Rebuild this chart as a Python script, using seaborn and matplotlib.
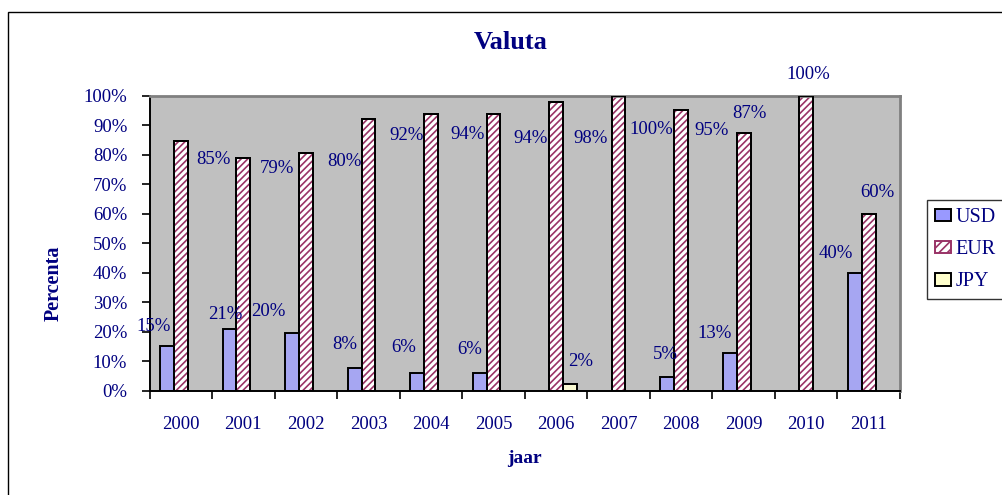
import numpy as np
import pandas as pd
import matplotlib
matplotlib.use("Agg")
import matplotlib.pyplot as plt
from matplotlib.patches import Rectangle, Patch
import seaborn as sns

# ---------------- data ----------------
years = ["2000", "2001", "2002", "2003", "2004", "2005",
         "2006", "2007", "2008", "2009", "2010", "2011"]
currencies = ["USD", "EUR", "JPY"]
usd = [15.0, 21.0, 19.6, 7.8, 6.0, 6.0, 0.0, 0.0, 4.8, 12.8, 0.0, 40.0]
eur = [84.6, 78.7, 80.4, 92.2, 93.6, 93.6, 97.8, 100.0, 95.2, 87.2, 100.0, 60.0]
jpy = [0.0, 0.0, 0.0, 0.0, 0.0, 0.0, 2.2, 0.0, 0.0, 0.0, 0.0, 0.0]
ytick_values = [0, 10, 20, 30, 40, 50, 60, 70, 80, 90, 100]
title = "Valuta"
xlabel = "jaar"
ylabel = "Percenta"

# ---------------- label layout (offsets, not data) ----------------
usd_lbl_dx = [-0.43, -0.29, -0.60, -0.38, -0.43, -0.38, None, None, -0.25, -0.47, None, -0.52]
usd_lbl_y = [21.7, 25.7, 26.8, 15.5, 14.5, 13.8, None, None, 12.4, 19.5, None, 46.6]
eur_lbl_dx = [0.53, 0.53, 0.61, 0.61, 0.58, 0.60, 0.55, 0.53, 0.49, 0.09, 0.03, 0.14]
eur_lbl_y = [78.2, 75.2, 77.5, 86.3, 86.9, 85.6, 85.6, 88.6, 88.0, 93.8, 107.0, 67.1]
jpy_lbl_dx = [None] * 6 + [0.39] + [None] * 5
jpy_lbl_y = [None] * 6 + [9.8] + [None] * 5

NAVY = "#000080"
colors = {"USD": "#9999FF", "EUR": "#FFFFFF", "JPY": "#FFFFCC"}
HATCH_COLOR = "#993366"
EDGE_LW = 1.4

plt.rcParams["font.family"] = ["Liberation Serif", "DejaVu Serif"]
plt.rcParams["hatch.linewidth"] = 1.2

series = {"USD": usd, "EUR": eur, "JPY": jpy}
rows = []
for cur in currencies:
    for y, v in zip(years, series[cur]):
        if v > 0:
            rows.append({"jaar": y, "valuta": cur, "pct": v})
df = pd.DataFrame(rows)

fig = plt.figure(figsize=(10.02, 4.95), dpi=100)
ax = fig.add_axes([149.5 / 1002, 1 - 390.7 / 495, 750.5 / 1002, 295.2 / 495])
ax.set_facecolor("#C0C0C0")

sns.barplot(data=df, x="jaar", y="pct", hue="valuta", order=years,
            hue_order=currencies, palette=colors, width=0.66,
            edgecolor="black", linewidth=EDGE_LW, errorbar=None,
            legend=False, ax=ax, zorder=2)

# hatch overlay for EUR bars
eur_container = ax.containers[1]
for bar in eur_container:
    ax.add_patch(Rectangle(bar.get_xy(), bar.get_width(), bar.get_height(),
                           facecolor="none", edgecolor=HATCH_COLOR,
                           hatch="/////", linewidth=0, zorder=2.5))
    ax.add_patch(Rectangle(bar.get_xy(), bar.get_width(), bar.get_height(),
                           facecolor="none", edgecolor="black",
                           linewidth=EDGE_LW, zorder=2.6))

# data labels
lbl_sets = [(usd, usd_lbl_dx, usd_lbl_y), (eur, eur_lbl_dx, eur_lbl_y),
            (jpy, jpy_lbl_dx, jpy_lbl_y)]
for vals, dxs, lys in lbl_sets:
    for i, (v, dx, ly) in enumerate(zip(vals, dxs, lys)):
        if v > 0 and dx is not None:
            ax.text(i + dx, ly, f"{round(v):d}%", ha="center", va="center",
                    fontsize=13.5, color=NAVY, zorder=5, clip_on=False)

ax.set_xlim(-0.5, len(years) - 0.5)
ax.set_ylim(0, 100)
ax.set_yticks(ytick_values)
ax.set_yticklabels([f"{t}%" for t in ytick_values])
ax.set_xticks(range(len(years)))
ax.set_xticklabels(years)
ax.set_xticks(np.arange(-0.5, len(years)), minor=True)
ax.tick_params(axis="x", which="major", length=0, pad=18, labelsize=13.5, labelcolor=NAVY)
ax.tick_params(axis="x", which="minor", length=6, width=1.2, color="black")
ax.tick_params(axis="y", which="major", length=6, width=1.2, pad=10,
               labelsize=13.5, labelcolor=NAVY, color="black")
ax.set_xlabel("")
ax.set_ylabel("")

for s in ["left", "bottom"]:
    ax.spines[s].set_color("black")
    ax.spines[s].set_linewidth(1.4)
for s in ["top", "right"]:
    ax.spines[s].set_color("#808080")
    ax.spines[s].set_linewidth(2)

fig.text(511 / 1002, 1 - 42.5 / 495, title, ha="center", va="center",
         fontsize=19, fontweight="bold", color=NAVY)
fig.text(54 / 1002, 1 - 283 / 495, ylabel, ha="center", va="center",
         rotation=90, fontsize=14.5, fontweight="bold", color=NAVY)
fig.text(524 / 1002, 1 - 463 / 495, xlabel, ha="center", va="baseline",
         fontsize=14, fontweight="bold", color=NAVY)

# legend
handles = [Patch(facecolor=colors["USD"], edgecolor="black", linewidth=EDGE_LW),
           Patch(facecolor="white", edgecolor=HATCH_COLOR, hatch="////", linewidth=EDGE_LW),
           Patch(facecolor=colors["JPY"], edgecolor="black", linewidth=EDGE_LW)]
leg = fig.legend(handles, currencies, loc="upper left",
                 bbox_to_anchor=(927 / 1002, 1 - 200 / 495),
                 frameon=True, fancybox=False, shadow=False,
                 fontsize=14.5, handlelength=0.8, handleheight=0.6,
                 handletextpad=0.2, labelspacing=0.65, borderpad=0.4,
                 borderaxespad=0)
leg.get_frame().set_edgecolor("black")
leg.get_frame().set_linewidth(1.0)
for t in leg.get_texts():
    t.set_color(NAVY)

# outer chart frame
fig.add_artist(Rectangle((8 / 1002, -0.5), 2.0, 1.5 - 12 / 495,
                         transform=fig.transFigure, fill=False,
                         edgecolor="black", linewidth=1.0))

fig.savefig("out.png", dpi=100)
